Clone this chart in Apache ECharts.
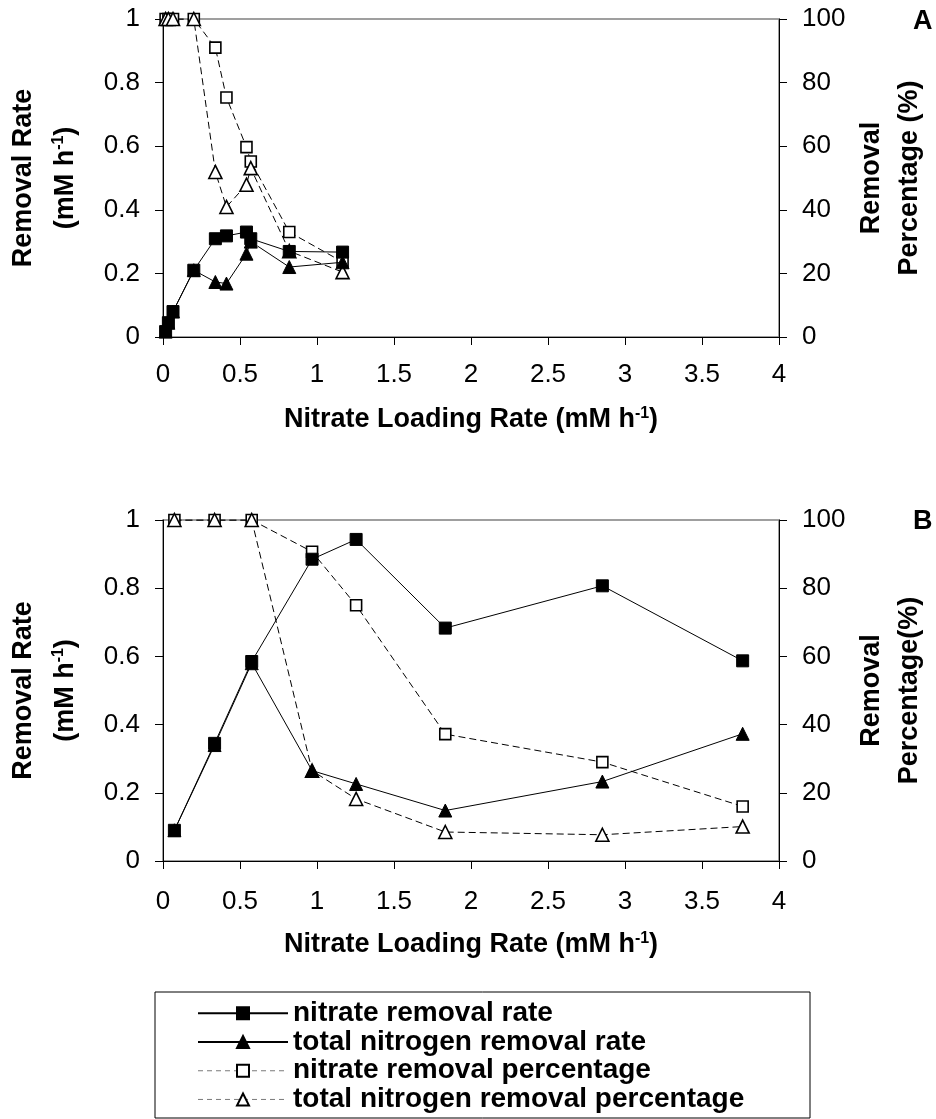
<!DOCTYPE html>
<html>
<head>
<meta charset="utf-8">
<script src="https://cdn.jsdelivr.net/npm/echarts@6/dist/echarts.min.js"></script>
<style>html,body{margin:0;padding:0;background:#fff}#c{width:936px;height:1119px}</style>
</head>
<body>
<div id="c"></div>
<script>
// Panel A data
const loadA = [0.017, 0.035, 0.065, 0.2, 0.34, 0.412, 0.542, 0.57, 0.82, 1.166];
const nitrateRateA = [0.017, 0.045, 0.08, 0.21, 0.309, 0.318, 0.33, 0.309, 0.269, 0.267];
const tnRateA = [0.017, 0.045, 0.08, 0.21, 0.173, 0.168, 0.262, 0.30, 0.22, 0.235];
const nitratePctA = [100, 100, 100, 100, 91, 75.3, 59.7, 55.2, 33, 23.6];
const tnPctA = [100, 100, 100, 100, 51.9, 40.9, 47.9, 53.1, 27, 20.4];
// Panel B data
const loadB = [0.074, 0.335, 0.576, 0.968, 1.254, 1.833, 2.853, 3.764];
const nitrateRateB = [0.09, 0.345, 0.585, 0.885, 0.943, 0.683, 0.807, 0.587];
const tnRateB = [0.09, 0.34, 0.58, 0.265, 0.226, 0.148, 0.233, 0.373];
const nitratePctB = [100, 100, 100, 90.7, 75, 37.2, 29, 16];
const tnPctB = [100, 100, 100, 26.5, 18.2, 8.5, 7.7, 10.1];
// Names / labels
const seriesNames = ['nitrate removal rate', 'total nitrogen removal rate', 'nitrate removal percentage', 'total nitrogen removal percentage'];
const xTitle = 'Nitrate Loading Rate (mM h';
const leftTitle = ['Removal Rate', '(mM h'];
const rightTitleA = ['Removal', 'Percentage (%)'];
const rightTitleB = ['Removal', 'Percentage(%)'];
const panelLabels = ['A', 'B'];

const FONT = 'Liberation Sans, Arial, sans-serif';
const pairs = (xs, ys) => xs.map((x, i) => [x, ys[i]]);

const richName = {
  t: {fontFamily: FONT, fontSize: 27, fontWeight: 'bold', color: '#000'},
  s: {fontFamily: FONT, fontSize: 16, fontWeight: 'bold', color: '#000', verticalAlign: 'top'}
};

function xAxis(gi, margin, gap) {
  return {
    type: 'value', gridIndex: gi, min: 0, max: 4, interval: 0.5,
    axisLine: {show: true, lineStyle: {color: '#000', width: 1}},
    axisTick: {show: true, inside: false, length: 8, lineStyle: {color: '#000'}},
    axisLabel: {fontFamily: FONT, fontSize: 26, color: '#000', margin: margin},
    splitLine: {show: false},
    name: '{t|' + xTitle + '}{s|-1}{t|)}', nameLocation: 'middle', nameGap: gap,
    nameTextStyle: {rich: richName}
  };
}
function yLeft(gi) {
  return {
    type: 'value', gridIndex: gi, position: 'left', min: 0, max: 1, interval: 0.2,
    axisLine: {show: true, lineStyle: {color: '#000', width: 1}},
    axisTick: {show: true, length: 8, lineStyle: {color: '#000'}},
    axisLabel: {fontFamily: FONT, fontSize: 26, color: '#000', margin: 23},
    splitLine: {show: false},
    name: '{t|' + leftTitle[0] + '}\n{t|' + leftTitle[1] + '}{s|-1}{t|)}',
    nameLocation: 'middle', nameRotate: 90, nameGap: 76,
    nameTextStyle: {rich: {
      t: {fontFamily: FONT, fontSize: 27, fontWeight: 'bold', color: '#000', lineHeight: 42},
      s: {fontFamily: FONT, fontSize: 16, fontWeight: 'bold', color: '#000', lineHeight: 42, padding: [0, 0, 14, 0]}
    }}
  };
}
function yRight(gi, title) {
  return {
    type: 'value', gridIndex: gi, position: 'right', min: 0, max: 100, interval: 20,
    axisLine: {show: true, lineStyle: {color: '#000', width: 1}},
    axisTick: {show: true, length: 8, lineStyle: {color: '#000'}},
    axisLabel: {fontFamily: FONT, fontSize: 26, color: '#000', margin: 23},
    splitLine: {show: false},
    name: '{t|' + title[0] + '}\n{t|' + title[1] + '}',
    nameLocation: 'middle', nameRotate: 90, nameGap: 74,
    nameTextStyle: {rich: {
      t: {fontFamily: FONT, fontSize: 27, fontWeight: 'bold', color: '#000', lineHeight: 38}
    }}
  };
}

const solid = {color: '#000', width: 1, type: 'solid'};
const dashed = {color: '#000', width: 1, type: [7, 4]};
const filled = {color: '#000', borderColor: '#000', borderWidth: 1};
const open = {color: '#fff', borderColor: '#000', borderWidth: 1.6};

function mk(name, xi, yi, data, symbol, size, style, line, z) {
  return {
    name: name, type: 'line', xAxisIndex: xi, yAxisIndex: yi, data: data,
    symbol: symbol, symbolSize: size, showSymbol: true,
    itemStyle: style, lineStyle: line, z: z, animation: false,
    emphasis: {disabled: true}
  };
}

const series = [];
[[0, 0, 1, loadA, nitrateRateA, tnRateA, nitratePctA, tnPctA], [1, 2, 3, loadB, nitrateRateB, tnRateB, nitratePctB, tnPctB]].forEach(p => {
  const [xi, yl, yr, xs, nr, tr, np, tp] = p;
  series.push(mk(seriesNames[2], xi, yr, pairs(xs, np), 'rect', 11, open, dashed, 2));
  series.push(mk(seriesNames[3], xi, yr, pairs(xs, tp), 'triangle', 13, open, dashed, 2));
  series.push(mk(seriesNames[1], xi, yl, pairs(xs, tr), 'triangle', 13, filled, solid, 3));
  series.push(mk(seriesNames[0], xi, yl, pairs(xs, nr), 'rect', 12, filled, solid, 4));
});

const legendDash = {color: '#7a7a7a', width: 1, type: [5, 4]};
const option = {
  backgroundColor: '#fff',
  animation: false,
  grid: [
    {left: 163, top: 19, width: 616, height: 318, show: true, borderColor: '#808080', borderWidth: 1.5, backgroundColor: 'transparent'},
    {left: 163, top: 520, width: 616, height: 341, show: true, borderColor: '#808080', borderWidth: 1.5, backgroundColor: 'transparent'}
  ],
  xAxis: [xAxis(0, 25, 69), xAxis(1, 28, 70)],
  yAxis: [yLeft(0), yRight(0, rightTitleA), yLeft(1), yRight(1, rightTitleB)],
  legend: {
    data: [
      {name: seriesNames[0]},
      {name: seriesNames[1]},
      {name: seriesNames[2], lineStyle: legendDash},
      {name: seriesNames[3], lineStyle: legendDash}
    ],
    orient: 'vertical', left: 197, top: 999,
    itemWidth: 90, itemHeight: 15, itemGap: 0, padding: 0,
    textStyle: {fontFamily: FONT, fontSize: 28, fontWeight: 'bold', color: '#000', lineHeight: 28.7},
    selectedMode: false
  },
  graphic: [
    {type: 'rect', shape: {x: 155, y: 992, width: 655, height: 126}, style: {fill: 'none', stroke: '#000', lineWidth: 1}, z: -1},
    {type: 'text', left: 913, top: 8, style: {text: panelLabels[0], font: 'bold 27px ' + FONT, fill: '#000'}},
    {type: 'text', left: 913, top: 508, style: {text: panelLabels[1], font: 'bold 27px ' + FONT, fill: '#000'}}
  ],
  series: series
};
const chart = echarts.init(document.getElementById('c'), null, {renderer: 'canvas'});
chart.setOption(option);
</script>
</body>
</html>
